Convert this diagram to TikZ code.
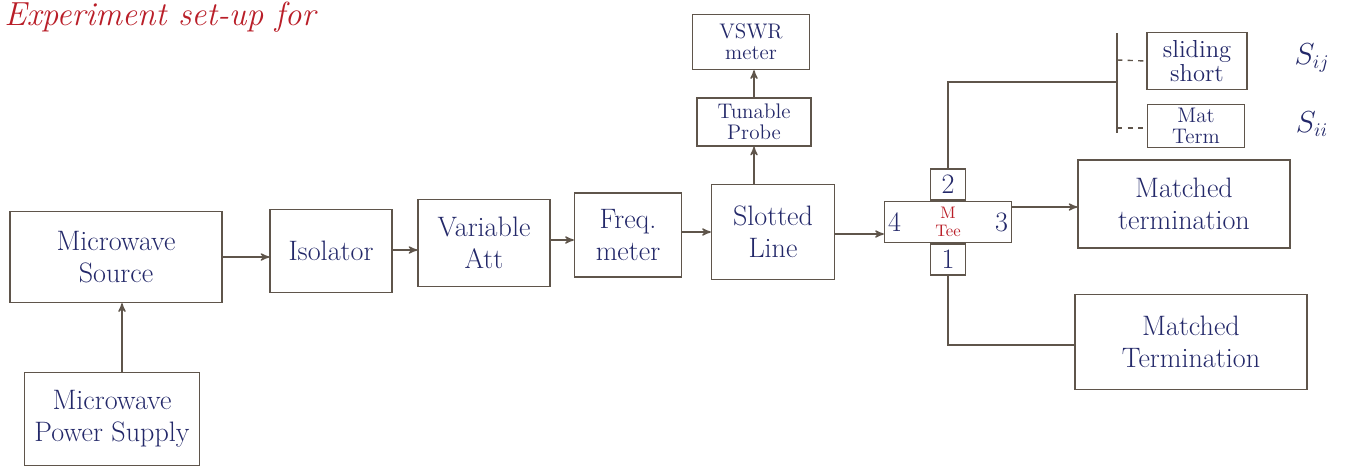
\documentclass[tikz,border=0pt]{standalone}
\usepackage{xcolor}
\usepackage{tikz}
\usetikzlibrary{positioning, calc, arrows}

\definecolor{ink}{RGB}{35,40,105}
\definecolor{pen}{RGB}{95,85,75}
\definecolor{redink}{RGB}{185,30,40}

\begin{document}
\begin{tikzpicture}[x=0.02cm, y=-0.02cm, line width=0.8pt]
\tikzstyle{block}=[draw=pen, align=center, text=ink, font=\fontsize{16}{18}\selectfont]
\tikzstyle{smallblock}=[draw=pen, align=center, text=ink, font=\fontsize{12}{12}\selectfont, inner sep=1pt]
\tikzstyle{port}=[draw=pen, minimum width=0.7cm, minimum height=0.62cm, text=ink, font=\fontsize{16}{18}\selectfont, inner sep=0pt]
\tikzstyle{wire}=[draw=pen, ->, >=stealth']

\useasboundingbox (0,0) rectangle (1354,467);

\node (title) at (2,17) [anchor=west, text=redink, font=\fontsize{19}{19}\selectfont\itshape, inner sep=1pt] {Experiment set-up for};

\node (src) at (116,257) [block, minimum width=4.24cm, minimum height=1.82cm] {Microwave\\Source};
\node (pws) at (112,419) [block, minimum width=3.5cm, minimum height=1.86cm] {Microwave\\Power Supply};
\node (iso) at (331,251) [block, minimum width=2.44cm, minimum height=1.66cm] {Isolator};
\node (att) at (484,243) [block, minimum width=2.64cm, minimum height=1.74cm] {Variable\\Att};
\node (frq) at (628,235) [block, minimum width=2.14cm, minimum height=1.68cm] {Freq.\\meter};
\node (sl) at (773,232) [block, minimum width=2.46cm, minimum height=1.9cm] {Slotted\\Line};
\node (prb) at (754,122) [smallblock, minimum width=2.28cm, minimum height=0.96cm] {Tunable\\Probe};
\node (vswr) at (751,42) [smallblock, minimum width=2.34cm, minimum height=1.1cm] {VSWR\\meter};

\node (tee) at (948,222) [draw=pen, minimum width=2.54cm, minimum height=0.82cm, text=redink, align=center, font=\fontsize{9.5}{10.5}\selectfont, inner sep=0pt] {M\\Tee};
\node (p2) [port, above=0pt of tee] {2};
\node (p1) [port, below=0pt of tee] {1};
\node (t4) [text=ink, font=\fontsize{16}{18}\selectfont, right=1pt of tee.west, inner sep=1pt] {4};
\node (t3) [text=ink, font=\fontsize{16}{18}\selectfont, left=1pt of tee.east, inner sep=1pt] {3};

\node (mt1) at (1184,204) [block, minimum width=4.24cm, minimum height=1.76cm] {Matched\\termination};
\node (mt2) at (1191,342) [block, minimum width=4.64cm, minimum height=1.9cm] {Matched\\Termination};
\node (ss) at (1197,61) [smallblock, font=\fontsize{14}{14}\selectfont, minimum width=2cm, minimum height=1.14cm] {sliding\\short};
\node (mtm) at (1196,126) [smallblock, minimum width=1.94cm, minimum height=0.86cm] {Mat\\Term};
\node (sij) at (1312,58) [text=ink, font=\fontsize{16}{18}\selectfont] {$S_{ij}$};
\node (sii) at (1312,124) [text=ink, font=\fontsize{16}{18}\selectfont] {$S_{ii}$};

% main chain
\draw [wire] (src.east |- 0,257) -- (iso.west |- 0,257);
\draw [wire] (iso.east |- 0,250) -- (att.west |- 0,250);
\draw [wire] (att.east |- 0,240) -- (frq.west |- 0,240);
\draw [wire] (frq.east |- 0,232) -- (sl.west |- 0,232);
\draw [wire] (sl.east |- 0,234) -- (tee.west |- 0,234);
\draw [wire] (tee.east |- 0,207) -- (mt1.west |- 0,207);
\draw [wire] (pws.north -| 122,0) -- (src.south -| 122,0);
\draw [wire] (sl.north -| prb) -- (prb);
\draw [wire] (prb.north) -- (prb.north |- vswr.south);

% port 1 and port 2
\coordinate (c1) at (p1.south |- 0,345);
\draw [draw=pen] (p1.south) -- (c1) -- (mt2.west |- c1);
\coordinate (c2) at (p2.north |- 0,82);
\coordinate (bus) at (1117,82);
\coordinate (bt) at (1117,33);
\coordinate (bb) at (1117,133);
\draw [draw=pen] (p2.north) -- (c2) -- (bus);
\draw [draw=pen] (bt) -- (bb);
\draw [draw=pen, dashed] (1117,60) -- (ss.west);
\draw [draw=pen, dashed] (1117,128) -- (mtm.west |- 0,128);
\end{tikzpicture}
\end{document}
